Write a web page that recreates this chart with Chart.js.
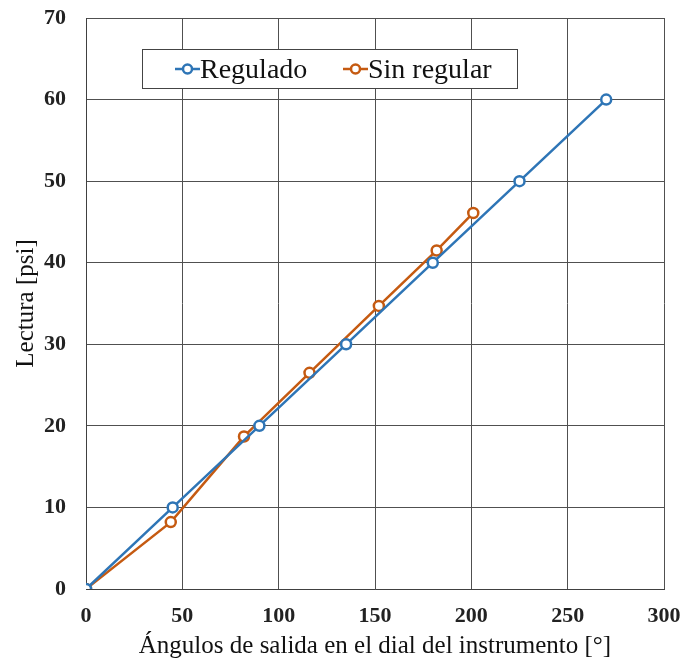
<!DOCTYPE html>
<html>
<head>
<meta charset="utf-8">
<script src="https://cdn.jsdelivr.net/npm/chart.js@4/dist/chart.umd.min.js"></script>
<style>
  html, body { margin: 0; padding: 0; background: #fff; }
  #wrap { width: 695px; height: 661px; }
</style>
</head>
<body>
<div id="wrap"><canvas id="chart"></canvas></div>
<script>
// data
const regAngles = [0, 45, 90, 135, 180, 225, 270];
const regValues = [0, 10, 20, 30, 40, 50, 60];
const sinAngles = [0, 44, 82, 116, 152, 182, 201];
const sinValues = [0, 8.2, 18.7, 26.5, 34.7, 41.5, 46.1];
const seriesNames = ['Regulado', 'Sin regular'];

const BLUE = '#2E75B6';
const ORANGE = '#C55A11';
const serif = '"Liberation Serif", "Times New Roman", serif';

function pts(xs, ys) {
  return xs.map((x, i) => ({ x: x, y: ys[i] }));
}

// legend drawn inside the plot, boxed like the original
const boxLegend = {
  id: 'boxLegend',
  afterDraw(chart) {
    const ctx = chart.ctx;
    ctx.save();
    ctx.fillStyle = '#fff';
    ctx.fillRect(142, 49, 375, 39);
    ctx.strokeStyle = '#444';
    ctx.lineWidth = 1;
    ctx.strokeRect(142.5, 49.5, 375, 39);
    ctx.font = '28px ' + serif;
    ctx.textBaseline = 'middle';
    const items = [{ x: 175, c: BLUE }, { x: 343, c: ORANGE }];
    items.forEach((it, i) => {
      ctx.strokeStyle = it.c;
      ctx.lineWidth = 2.5;
      ctx.beginPath();
      ctx.moveTo(it.x, 69);
      ctx.lineTo(it.x + 25, 69);
      ctx.stroke();
      ctx.beginPath();
      ctx.fillStyle = '#fff';
      ctx.arc(it.x + 12.5, 69, 4.5, 0, Math.PI * 2);
      ctx.fill();
      ctx.stroke();
      ctx.fillStyle = '#111';
      ctx.fillText(seriesNames[i], it.x + 25, 71);
    });
    ctx.restore();
  }
};

new Chart(document.getElementById('chart'), {
  type: 'line',
  data: {
    datasets: [
      {
        label: seriesNames[0],
        data: pts(regAngles, regValues),
        borderColor: BLUE,
        backgroundColor: '#fff',
        borderWidth: 2.5,
        pointRadius: 5,
        pointBorderWidth: 2.5,
        pointBackgroundColor: '#fff',
        tension: 0
      },
      {
        label: seriesNames[1],
        data: pts(sinAngles, sinValues),
        borderColor: ORANGE,
        backgroundColor: '#fff',
        borderWidth: 2.5,
        pointRadius: 5,
        pointBorderWidth: 2.5,
        pointBackgroundColor: '#fff',
        tension: 0
      }
    ]
  },
  options: {
    responsive: true,
    maintainAspectRatio: false,
    animation: false,
    layout: { padding: { top: 18, right: 31, left: 6, bottom: 0 } },
    plugins: {
      legend: { display: false },
      tooltip: { enabled: false }
    },
    scales: {
      x: {
        type: 'linear',
        min: 0,
        max: 300,
        ticks: { stepSize: 50, color: '#222', font: { family: serif, size: 22, weight: 'bold' }, padding: 14 },
        grid: { color: '#505050', lineWidth: 1, drawTicks: false },
        border: { color: '#404040', width: 1 },
        title: { display: true, text: 'Ángulos de salida en el dial del instrumento [°]', color: '#111', font: { family: serif, size: 25 }, padding: { top: 1, bottom: 0 } },
        afterFit(axis) { axis.height = 72; }
      },
      y: {
        min: 0,
        max: 70,
        ticks: { stepSize: 10, color: '#222', font: { family: serif, size: 22, weight: 'bold' }, padding: 20 },
        grid: { color: '#505050', lineWidth: 1, drawTicks: false },
        border: { color: '#404040', width: 1 },
        title: { display: true, text: 'Lectura [psi]', color: '#111', font: { family: serif, size: 25 }, padding: { top: 5, bottom: 0 } },
        afterFit(axis) { axis.width = 80; axis.paddingTop = 0; axis.paddingBottom = 0; }
      }
    }
  },
  plugins: [boxLegend]
});
</script>
</body>
</html>
